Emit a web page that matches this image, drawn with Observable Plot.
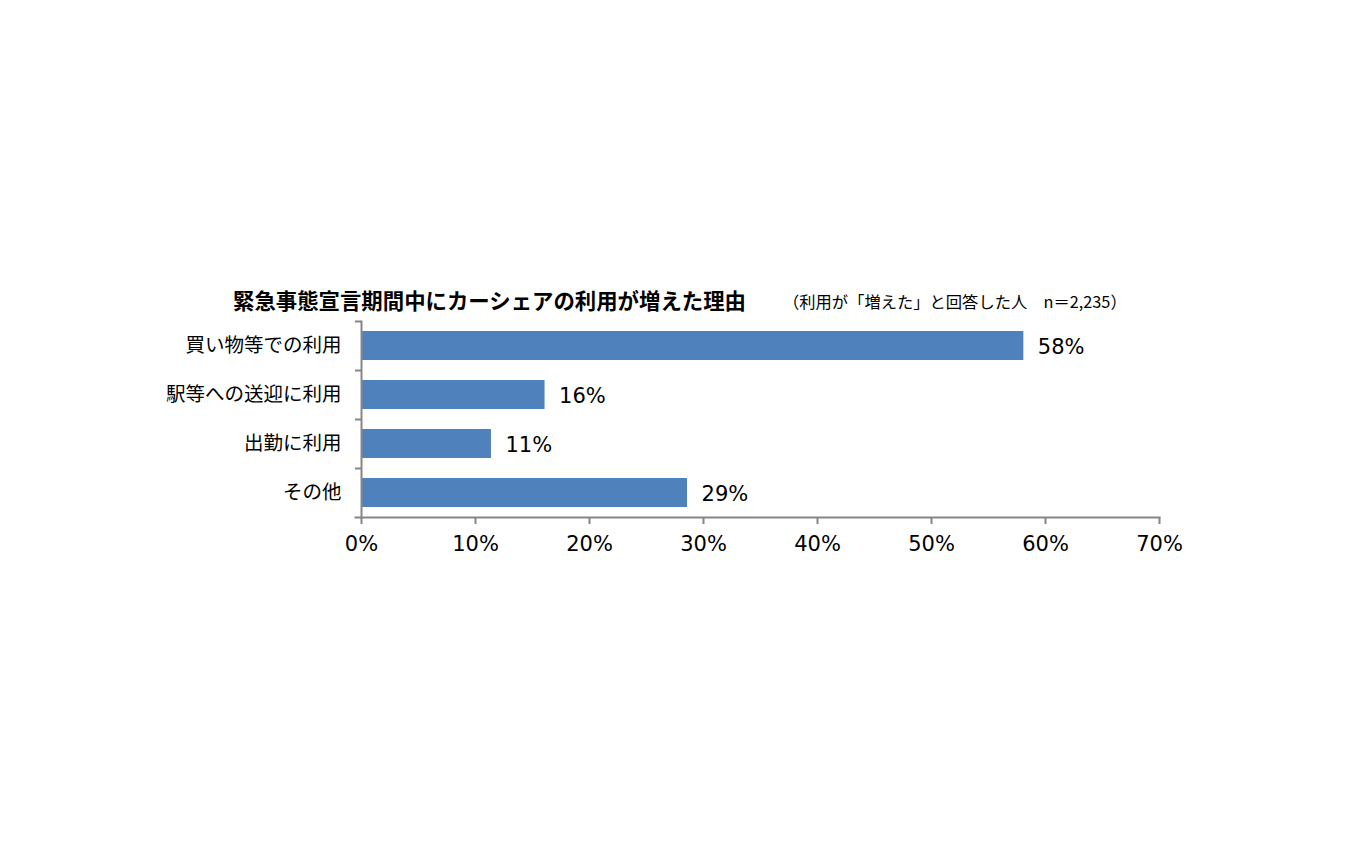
<!DOCTYPE html>
<html>
<head>
<meta charset="utf-8">
<script src="https://cdn.jsdelivr.net/npm/d3@7"></script>
<script src="https://cdn.jsdelivr.net/npm/@observablehq/plot@0.6"></script>
<style>
  html, body { margin: 0; padding: 0; background: #fff; }
  body { width: 1350px; height: 844px; position: relative; overflow: hidden;
         font-family: "Noto Sans CJK JP", "Noto Sans", sans-serif; }
  #chart { position: absolute; left: 0; top: 0; }
  .title { position: absolute; left: 233px; top: 288px; font-size: 21.4px; font-weight: bold;
           line-height: 24px; color: #000; white-space: nowrap; }
  .subtitle { position: absolute; left: 783px; top: 290px; font-size: 16.3px;
              line-height: 22px; color: #000; white-space: nowrap; }
</style>
</head>
<body>
<div id="chart"></div>
<div class="title">緊急事態宣言期間中にカーシェアの利用が増えた理由</div>
<div class="subtitle">（利用が「増えた」と回答した人　n＝2,235）</div>
<script>
const categories = ["買い物等での利用", "駅等への送迎に利用", "出勤に利用", "その他"];
const values = [58.1, 16.1, 11.4, 28.6];
const valueLabels = ["58%", "16%", "11%", "29%"];
const xTicks = [0, 10, 20, 30, 40, 50, 60, 70];

const data = categories.map((c, i) => ({category: c, value: values[i], label: valueLabels[i]}));

const axisColor = "#868686";
const barColor = "#4F81BD";
const font = "'Noto Sans CJK JP', 'Noto Sans', sans-serif";
const numFont = "'DejaVu Sans', 'Noto Sans', sans-serif";

const plotTop = 321, plotBottom = 517;
const step = (plotBottom - plotTop) / categories.length;

const chart = Plot.plot({
  width: 1350,
  height: 844,
  marginLeft: 361,
  marginRight: 191,
  marginTop: plotTop,
  marginBottom: 844 - plotBottom,
  style: {fontFamily: font, background: "transparent", color: "#000"},
  x: {domain: [0, 70], ticks: xTicks},
  y: {domain: categories, paddingInner: 0.41, paddingOuter: 0.205},
  marks: [
    Plot.barX(data, {x: "value", y: "category", fill: barColor}),
    Plot.text(data, {x: "value", y: "category", text: "label", textAnchor: "start", dx: 14, dy: 1, fontSize: 21, fontFamily: numFont, fill: "#000"}),
    Plot.frame({anchor: "left", stroke: axisColor, strokeWidth: 2}),
    Plot.frame({anchor: "bottom", stroke: axisColor, strokeWidth: 2, insetLeft: -6}),
    Plot.ruleY(categories, {y: d => d, x1: 0, x2: 0, insetLeft: -6, dy: -step / 2, stroke: axisColor, strokeWidth: 2}),
    Plot.axisX({ticks: xTicks, tickFormat: d => d + "%", tickSize: 7, tickPadding: 12, fontSize: 21, fontFamily: numFont, stroke: axisColor, strokeWidth: 2, fill: "#000", label: null}),
    Plot.axisY({tickSize: 0, tickPadding: 20, fontSize: 19.5, fill: "#000", label: null})
  ]
});
document.getElementById("chart").appendChild(chart);
</script>
</body>
</html>
